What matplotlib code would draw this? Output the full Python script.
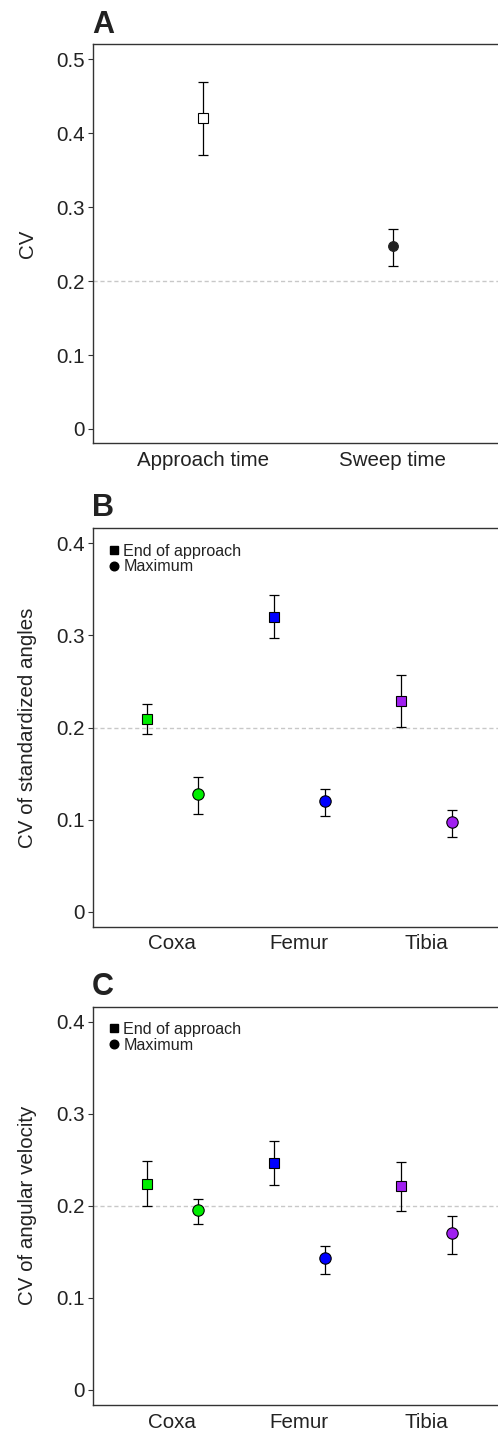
import matplotlib
matplotlib.use('Agg')
import matplotlib.pyplot as plt
from matplotlib.lines import Line2D

plt.rcParams['font.family'] = ['Liberation Sans', 'DejaVu Sans']

# Panel A: timing CV
timing_labels = ['Approach time', 'Sweep time']
timing_cv = [0.420, 0.247]
timing_lo = [0.370, 0.220]
timing_hi = [0.469, 0.271]

# Panels B and C: joints
joints = ['Coxa', 'Femur', 'Tibia']
joint_colors = ['#00ee00', '#0000ff', '#a020f0']

angle_end_cv = [0.209, 0.320, 0.229]
angle_end_lo = [0.193, 0.297, 0.201]
angle_end_hi = [0.226, 0.344, 0.257]
angle_max_cv = [0.128, 0.120, 0.097]
angle_max_lo = [0.106, 0.104, 0.081]
angle_max_hi = [0.146, 0.133, 0.110]

vel_end_cv = [0.224, 0.247, 0.221]
vel_end_lo = [0.200, 0.223, 0.194]
vel_end_hi = [0.249, 0.270, 0.248]
vel_max_cv = [0.196, 0.143, 0.170]
vel_max_lo = [0.180, 0.126, 0.148]
vel_max_hi = [0.207, 0.156, 0.189]

TEXT = '#222222'
SPINE = '#333333'
FS = 14.8


def style_axes(ax, ylabel):
    for side in ['left', 'top', 'right', 'bottom']:
        ax.spines[side].set_color(SPINE)
        ax.spines[side].set_linewidth(1.0)
    ax.axhline(0.2, color='#c8c8c8', linestyle=(0, (3, 2)), linewidth=1.0, zorder=0)
    ax.tick_params(axis='y', length=3.6, width=0.8, color=SPINE, pad=2.5,
                   labelsize=FS, labelcolor=TEXT)
    ax.tick_params(axis='x', length=0, pad=5.5, labelsize=FS, labelcolor=TEXT)
    ax.set_ylabel(ylabel, fontsize=FS, color=TEXT)
    ax.yaxis.set_label_coords(-0.136, 0.5)


def draw_points(ax, x, cv, lo, hi, marker, faces, size):
    for xi, v, l, h, fc in zip(x, cv, lo, hi, faces):
        ax.errorbar([xi], [v], yerr=[[v - l], [h - v]], fmt='none', ecolor='black',
                    elinewidth=0.9, capsize=3.6, capthick=0.9, zorder=2)
        ax.plot([xi], [v], marker=marker, markersize=size, markerfacecolor=fc,
                markeredgecolor='black', markeredgewidth=0.8, linestyle='none', zorder=3)


def joint_panel(ax, end_cv, end_lo, end_hi, max_cv, max_lo, max_hi, ylabel):
    pos = list(range(1, len(joints) + 1))
    draw_points(ax, [p - 0.2 for p in pos], end_cv, end_lo, end_hi, 's', joint_colors, 7.2)
    draw_points(ax, [p + 0.2 for p in pos], max_cv, max_lo, max_hi, 'o', joint_colors, 8.2)
    ax.set_xticks(pos)
    ax.set_xticklabels(joints)
    ax.set_xlim(0.376, 3.604)
    ax.set_ylim(-0.0163, 0.4163)
    ax.set_yticks([0, 0.1, 0.2, 0.3, 0.4])
    ax.set_yticklabels(['0', '0.1', '0.2', '0.3', '0.4'])
    style_axes(ax, ylabel)
    handles = [
        Line2D([], [], marker='s', color='black', linestyle='none', markersize=5.5),
        Line2D([], [], marker='o', color='black', linestyle='none', markersize=6.2),
    ]
    ax.legend(handles, ['End of approach', 'Maximum'], loc='upper left',
              bbox_to_anchor=(0.013, 0.99), frameon=False, fontsize=11.6,
              handlelength=0.55, handletextpad=0.3, labelspacing=0.05,
              borderpad=0.2, labelcolor=TEXT)


fig = plt.figure(figsize=(4.98, 14.31), dpi=100)

# (A) approach / sweep time
ax_a = fig.add_axes([0.1867, 0.6904, 0.8233, 0.2789])
draw_points(ax_a, [1, 2], timing_cv, timing_lo, timing_hi, 's', ['white', 'white'], 7.0)
ax_a.lines[-1].set_marker('o')
ax_a.lines[-1].set_markerfacecolor('#222222')
ax_a.lines[-1].set_markeredgecolor('#222222')
ax_a.set_xticks([1, 2])
ax_a.set_xticklabels(timing_labels)
ax_a.set_xlim(0.42, 2.58)
ax_a.set_ylim(-0.019, 0.5207)
ax_a.set_yticks([0, 0.1, 0.2, 0.3, 0.4, 0.5])
ax_a.set_yticklabels(['0', '0.1', '0.2', '0.3', '0.4', '0.5'])
style_axes(ax_a, 'CV')

# (B) standardized angles
ax_b = fig.add_axes([0.1867, 0.3524, 0.8233, 0.2784])
joint_panel(ax_b, angle_end_cv, angle_end_lo, angle_end_hi,
            angle_max_cv, angle_max_lo, angle_max_hi, 'CV of standardized angles')

# (C) angular velocity
ax_c = fig.add_axes([0.1867, 0.0182, 0.8233, 0.2783])
joint_panel(ax_c, vel_end_cv, vel_end_lo, vel_end_hi,
            vel_max_cv, vel_max_lo, vel_max_hi, 'CV of angular velocity')

for letter, y in [('A', 0.9769), ('B', 0.6396), ('C', 0.3047)]:
    fig.text(0.1847, y, letter, fontsize=22, fontweight='bold', color=TEXT, va='baseline')

fig.savefig('out.png', dpi=100)
plt.close(fig)
